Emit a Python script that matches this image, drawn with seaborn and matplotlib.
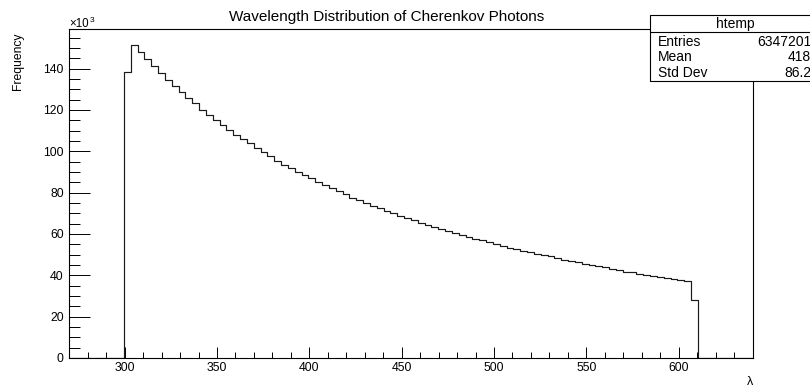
import numpy as np
import pandas as pd
import matplotlib
matplotlib.use("Agg")
import matplotlib.pyplot as plt
from matplotlib.ticker import MultipleLocator
from matplotlib.patches import Rectangle
from matplotlib.lines import Line2D
import seaborn as sns

# ---------------- data ----------------
title = "Wavelength Distribution of Cherenkov Photons"
x_label = "λ"
y_label = "Frequency"
hist_name = "htemp"
stat_names = ["Entries", "Mean", "Std Dev"]
stat_values = ["6347201", "418", "86.2"]

range_lo = 270.0          # histogram axis range (nm)
range_hi = 640.0
n_bins = 100
first_filled_bin = 8      # index of first non-empty bin
# bin contents (x10^3) of consecutive non-empty bins
counts_k = [
    138.4, 151.6, 148.0, 144.5, 141.2, 137.9, 134.7, 131.7, 128.8, 126.0,
    123.2, 120.1, 117.6, 115.1, 112.7, 110.4, 108.1, 105.9, 103.8, 101.7,
    99.7, 97.8, 95.4, 93.6, 91.8, 90.1, 88.5, 86.9, 85.3, 83.8,
    82.3, 80.8, 79.3, 77.6, 76.2, 74.9, 73.7, 72.5, 71.3, 70.1,
    68.9, 67.8, 66.7, 65.4, 64.4, 63.4, 62.4, 61.4, 60.5, 59.5,
    58.6, 57.7, 56.9, 56.1, 55.1, 54.2, 53.4, 52.7, 52.0, 51.2,
    50.5, 49.8, 49.1, 48.4, 47.5, 46.8, 46.2, 45.6, 45.0, 44.4,
    43.8, 43.2, 42.6, 41.8, 41.4, 40.8, 40.3, 39.8, 39.3, 38.8,
    38.3, 37.8, 37.4, 28.1,
]
x_ticks = [300, 350, 400, 450, 500, 550, 600]
y_ticks = [0, 20, 40, 60, 80, 100, 120, 140]
y_max = 159.0

# ---------------- build table ----------------
width = (range_hi - range_lo) / n_bins
first_center = range_lo + (first_filled_bin + 0.5) * width
centers = first_center + width * np.arange(len(counts_k))
df = pd.DataFrame({"wavelength": centers, "count": counts_k})

# ---------------- style ----------------
sns.set_theme(style="white")
plt.rcParams["font.family"] = ["Liberation Sans", "DejaVu Sans"]
plt.rcParams["axes.edgecolor"] = "black"
plt.rcParams["axes.linewidth"] = 0.8

W, H = 810, 388
fig = plt.figure(figsize=(W / 100, H / 100), dpi=100)
fig.patch.set_facecolor("white")

def fx(px):
    return px / W

def fy(py):
    return 1 - py / H

ax_left, ax_right, ax_top, ax_bottom = 69.3, 752.5, 29.3, 358.0
ax = fig.add_axes([fx(ax_left), fy(ax_bottom), fx(ax_right) - fx(ax_left),
                   fy(ax_top) - fy(ax_bottom)])

sns.histplot(data=df, x="wavelength", weights="count", bins=n_bins,
             binrange=(range_lo, range_hi),
             element="step", fill=False, color="#1a1a1a", linewidth=0.85, ax=ax)

ax.set_xlim(range_lo, range_hi)
ax.set_ylim(0, y_max)
ax.set_xlabel("")
ax.set_ylabel("")
ax.set_xticks(x_ticks)
ax.set_yticks(y_ticks)
ax.xaxis.set_minor_locator(MultipleLocator(10))
ax.yaxis.set_minor_locator(MultipleLocator(5))
for sp in ax.spines.values():
    sp.set_visible(True)
    sp.set_color("black")
    sp.set_linewidth(0.8)

ax.tick_params(axis="both", which="both", direction="in", color="black",
               top=False, right=False, bottom=True, left=True, width=0.7)
ax.tick_params(axis="x", which="major", length=8, pad=3, labelsize=8.8)
ax.tick_params(axis="x", which="minor", length=4)
ax.tick_params(axis="y", which="major", length=15, pad=4, labelsize=8.8)
ax.tick_params(axis="y", which="minor", length=8)
for lab in ax.get_xticklabels() + ax.get_yticklabels():
    lab.set_color("black")

# exponent label
fig.text(fx(69), fy(27), "×10", fontsize=8.3, ha="left", va="baseline", color="black")
fig.text(fx(90), fy(22.5), "3", fontsize=6, ha="left", va="baseline", color="black")

# title
fig.text(fx(387), fy(20.5), title, fontsize=11, ha="center", va="baseline", color="black")

# axis titles
fig.text(fx(18), fy(33), y_label, fontsize=8.7, rotation=90, ha="center", va="top", color="black")
fig.text(fx(753), fy(385), x_label, fontsize=9, ha="right", va="baseline", color="black")

# stats box (extends beyond right edge, as in the reference)
box_l, box_t, box_b, box_head = 650.0, 15.0, 81.0, 32.3
box_r = 820.0
fig.patches.append(Rectangle((fx(box_l), fy(box_b)), fx(box_r) - fx(box_l),
                             fy(box_t) - fy(box_b), transform=fig.transFigure,
                             facecolor="white", edgecolor="black", linewidth=0.8,
                             zorder=5))
fig.lines.append(Line2D([fx(box_l), fx(box_r)], [fy(box_head), fy(box_head)],
                        transform=fig.transFigure, color="black", linewidth=0.8,
                        zorder=6))
fig.text(fx(735), fy(24), hist_name, fontsize=10, ha="center",
         va="center", zorder=7, color="black")
row_y = [41.7, 57.3, 73.0]
for name, val, yy in zip(stat_names, stat_values, row_y):
    fig.text(fx(658), fy(yy), name, fontsize=10, ha="left", va="center",
             zorder=7, color="black")
    fig.text(fx(811), fy(yy), val, fontsize=10, ha="right", va="center",
             zorder=7, color="black")

fig.savefig("out.png", dpi=100, facecolor="white")
